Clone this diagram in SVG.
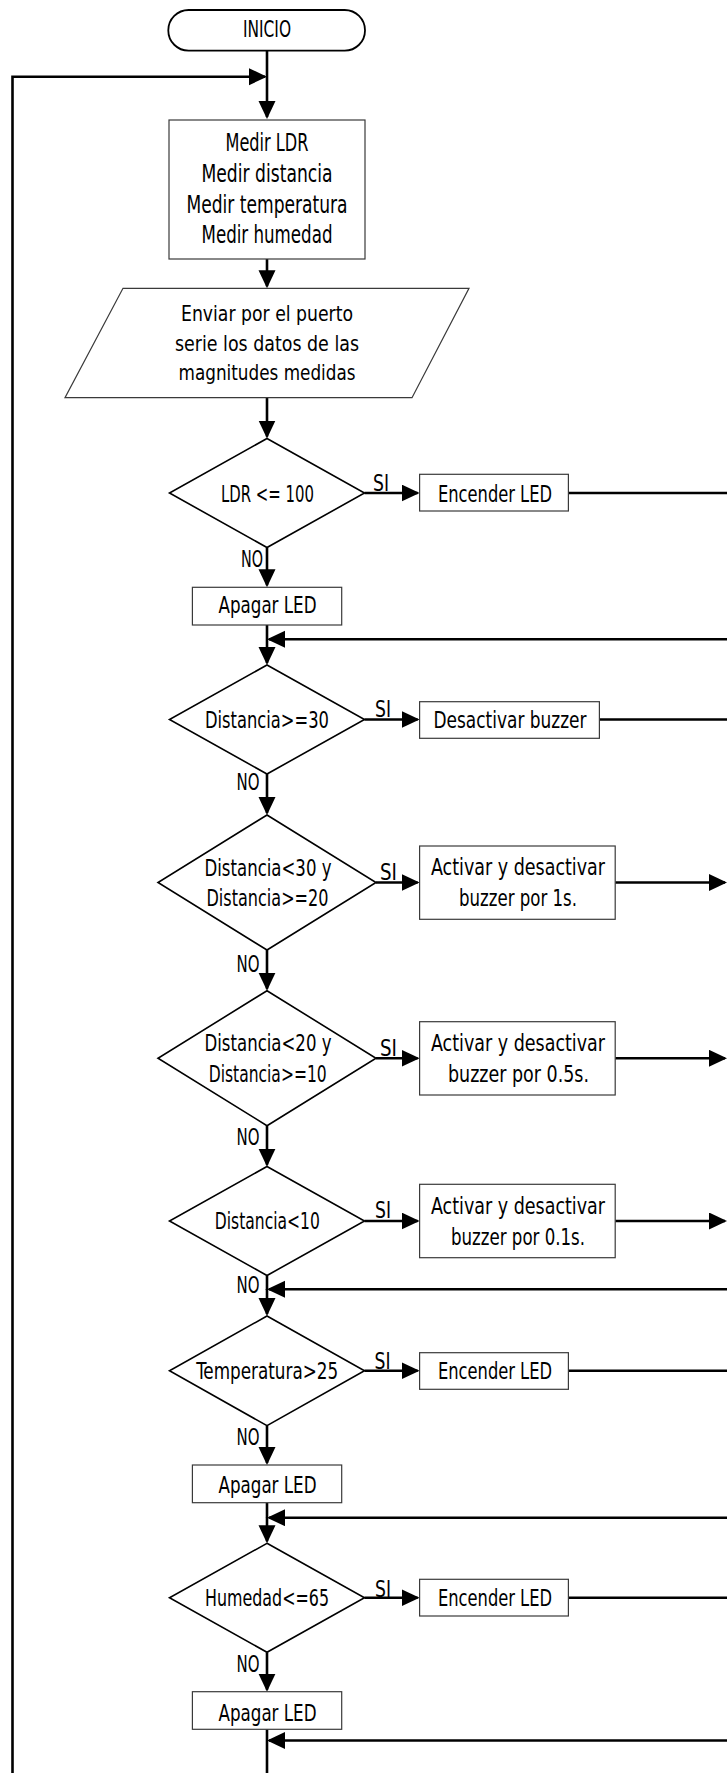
<svg xmlns="http://www.w3.org/2000/svg" width="727" height="1773" viewBox="0 0 727 1773">
<style>
.bg{fill:#ffffff}
.box{fill:#ffffff;stroke:#3a3a3a;stroke-width:1.2}
.dia{fill:#ffffff;stroke:#000000;stroke-width:1.6;stroke-linejoin:miter}
.term{fill:#ffffff;stroke:#000000;stroke-width:1.8}
.con{fill:none;stroke:#000000;stroke-width:2.6}
.arr{marker-end:url(#ah)}
text{font-family:"Liberation Sans Narrow","DejaVu Sans Condensed","Liberation Sans",sans-serif;fill:#000000;font-size:23px;text-anchor:middle}
.big{font-size:25px}
.par{font-size:22px}
.lab{font-size:23px}
.s{text-anchor:start}
.e{text-anchor:end}
</style>
<defs>
<marker id="ah" markerUnits="userSpaceOnUse" markerWidth="20" markerHeight="20" refX="16" refY="8.5" orient="auto">
<path d="M0,0 L18,8.5 L0,17 Z" fill="#000000"/>
</marker>
</defs>
<rect class="bg" x="0" y="0" width="727" height="1773"/>

<g id="connectors">
<line class="con arr" x1="267" y1="51" x2="267" y2="117"/>
<polyline class="con arr" points="12.5,1773 12.5,76.7 265,76.7"/>
<line class="con arr" x1="267" y1="259" x2="267" y2="286.3"/>
<line class="con arr" x1="267" y1="397.7" x2="267" y2="436.5"/>
<line class="con arr" x1="364.5" y1="493" x2="417.6" y2="493"/>
<line class="con" x1="568.4" y1="493" x2="727" y2="493"/>
<line class="con arr" x1="267" y1="547.5" x2="267" y2="585.3"/>
<line class="con" x1="267" y1="625" x2="267" y2="639"/>
<line class="con arr" x1="727" y1="639.3" x2="269" y2="639.3"/>
<line class="con arr" x1="267" y1="639" x2="267" y2="663"/>
<line class="con arr" x1="364.5" y1="719.5" x2="417.6" y2="719.5"/>
<line class="con" x1="599.4" y1="719.5" x2="727" y2="719.5"/>
<line class="con arr" x1="267" y1="774" x2="267" y2="813"/>
<line class="con arr" x1="376" y1="882.5" x2="417.6" y2="882.5"/>
<line class="con arr" x1="615.2" y1="882.5" x2="725" y2="882.5"/>
<line class="con arr" x1="267" y1="950" x2="267" y2="988.7"/>
<line class="con arr" x1="376" y1="1058.3" x2="417.6" y2="1058.3"/>
<line class="con arr" x1="615.2" y1="1058.3" x2="725" y2="1058.3"/>
<line class="con arr" x1="267" y1="1125.7" x2="267" y2="1164.7"/>
<line class="con arr" x1="364.5" y1="1221" x2="417.6" y2="1221"/>
<line class="con arr" x1="615.2" y1="1221" x2="725" y2="1221"/>
<line class="con" x1="267" y1="1275.5" x2="267" y2="1290"/>
<line class="con arr" x1="727" y1="1289.3" x2="269" y2="1289.3"/>
<line class="con arr" x1="267" y1="1289" x2="267" y2="1314"/>
<line class="con arr" x1="364.5" y1="1370.7" x2="417.6" y2="1370.7"/>
<line class="con" x1="568.4" y1="1370.7" x2="727" y2="1370.7"/>
<line class="con arr" x1="267" y1="1425.7" x2="267" y2="1463"/>
<line class="con" x1="267" y1="1502.7" x2="267" y2="1518"/>
<line class="con arr" x1="727" y1="1517.7" x2="269" y2="1517.7"/>
<line class="con arr" x1="267" y1="1517.7" x2="267" y2="1541.3"/>
<line class="con arr" x1="364.5" y1="1597.7" x2="417.6" y2="1597.7"/>
<line class="con" x1="568.4" y1="1597.7" x2="727" y2="1597.7"/>
<line class="con arr" x1="267" y1="1652.3" x2="267" y2="1689.7"/>
<line class="con" x1="267" y1="1729.3" x2="267" y2="1773"/>
<line class="con arr" x1="727" y1="1740.5" x2="269" y2="1740.5"/>
</g>

<g id="labels">
<text class="lab s" x="373" y="490.7" textLength="16" lengthAdjust="spacingAndGlyphs">SI</text>
<text class="lab e" x="263" y="566.7" textLength="22" lengthAdjust="spacingAndGlyphs">NO</text>
<text class="lab s" x="375" y="717" textLength="16" lengthAdjust="spacingAndGlyphs">SI</text>
<text class="lab e" x="259.5" y="790" textLength="23" lengthAdjust="spacingAndGlyphs">NO</text>
<text class="lab s" x="380" y="879.5" textLength="17" lengthAdjust="spacingAndGlyphs">SI</text>
<text class="lab e" x="259.5" y="971.7" textLength="23" lengthAdjust="spacingAndGlyphs">NO</text>
<text class="lab s" x="380" y="1056" textLength="17" lengthAdjust="spacingAndGlyphs">SI</text>
<text class="lab e" x="259.5" y="1145" textLength="23" lengthAdjust="spacingAndGlyphs">NO</text>
<text class="lab s" x="375" y="1218.3" textLength="16" lengthAdjust="spacingAndGlyphs">SI</text>
<text class="lab e" x="259.5" y="1293.3" textLength="23" lengthAdjust="spacingAndGlyphs">NO</text>
<text class="lab s" x="374.6" y="1369.3" textLength="16" lengthAdjust="spacingAndGlyphs">SI</text>
<text class="lab e" x="259.5" y="1445" textLength="23" lengthAdjust="spacingAndGlyphs">NO</text>
<text class="lab s" x="375" y="1596.7" textLength="16" lengthAdjust="spacingAndGlyphs">SI</text>
<text class="lab e" x="259.5" y="1671.7" textLength="23" lengthAdjust="spacingAndGlyphs">NO</text>
</g>

<g id="inicio">
<rect class="term" x="168.3" y="10" width="196.7" height="40.7" rx="20.3"/>
<text x="267" y="37.3" textLength="48" lengthAdjust="spacingAndGlyphs">INICIO</text>
</g>

<g id="medir">
<rect class="box" x="169" y="120" width="196" height="139"/>
<text class="big" x="267" y="151" textLength="83" lengthAdjust="spacingAndGlyphs">Medir LDR</text>
<text class="big" x="267" y="182" textLength="131" lengthAdjust="spacingAndGlyphs">Medir distancia</text>
<text class="big" x="267" y="212.5" textLength="161" lengthAdjust="spacingAndGlyphs">Medir temperatura</text>
<text class="big" x="267" y="243" textLength="131" lengthAdjust="spacingAndGlyphs">Medir humedad</text>
</g>

<g id="enviar">
<polygon class="box" points="123,288.3 469,288.3 412,397.7 65,397.7"/>
<text class="par" x="267" y="320.5" textLength="172" lengthAdjust="spacingAndGlyphs">Enviar por el puerto</text>
<text class="par" x="267" y="351" textLength="184" lengthAdjust="spacingAndGlyphs">serie los datos de las</text>
<text class="par" x="267" y="380" textLength="177" lengthAdjust="spacingAndGlyphs">magnitudes medidas</text>
</g>

<g id="d_ldr">
<polygon class="dia" points="267,438.5 364.5,493 267,547.5 169.5,493"/>
<text x="267.5" y="501.7" textLength="93" lengthAdjust="spacingAndGlyphs">LDR &lt;= 100</text>
</g>
<g id="encender1">
<rect class="box" x="419.6" y="474.3" width="148.8" height="36.7"/>
<text x="495" y="501.7" textLength="114" lengthAdjust="spacingAndGlyphs">Encender LED</text>
</g>
<g id="apagar1">
<rect class="box" x="192.4" y="587.3" width="149.3" height="37.7"/>
<text x="267.5" y="613.3" textLength="98" lengthAdjust="spacingAndGlyphs">Apagar LED</text>
</g>

<g id="d_dist30">
<polygon class="dia" points="267,665 364.5,719.5 267,774 169.5,719.5"/>
<text x="267" y="728.3" textLength="124" lengthAdjust="spacingAndGlyphs">Distancia&gt;=30</text>
</g>
<g id="desactivar">
<rect class="box" x="419.6" y="701.7" width="179.8" height="36.6"/>
<text x="510" y="728.3" textLength="153" lengthAdjust="spacingAndGlyphs">Desactivar buzzer</text>
</g>

<g id="d_dist20_30">
<polygon class="dia" points="267,815 376,882.5 267,950 158,882.5"/>
<text x="268" y="875.5" textLength="127" lengthAdjust="spacingAndGlyphs">Distancia&lt;30 y</text>
<text x="267.5" y="905.5" textLength="122" lengthAdjust="spacingAndGlyphs">Distancia&gt;=20</text>
</g>
<g id="buzzer1s">
<rect class="box" x="419.6" y="846" width="195.6" height="73.3"/>
<text x="518" y="875" textLength="174" lengthAdjust="spacingAndGlyphs">Activar y desactivar</text>
<text x="518" y="906" textLength="118" lengthAdjust="spacingAndGlyphs">buzzer por 1s.</text>
</g>

<g id="d_dist10_20">
<polygon class="dia" points="267,990.7 376,1058.3 267,1125.7 158,1058.3"/>
<text x="268" y="1051" textLength="127" lengthAdjust="spacingAndGlyphs">Distancia&lt;20 y</text>
<text x="267.7" y="1081.7" textLength="118" lengthAdjust="spacingAndGlyphs">Distancia&gt;=10</text>
</g>
<g id="buzzer05s">
<rect class="box" x="419.6" y="1021.7" width="195.6" height="73.3"/>
<text x="518" y="1051" textLength="174" lengthAdjust="spacingAndGlyphs">Activar y desactivar</text>
<text x="518.5" y="1081.7" textLength="141" lengthAdjust="spacingAndGlyphs">buzzer por 0.5s.</text>
</g>

<g id="d_dist10">
<polygon class="dia" points="267,1166.5 364.5,1221 267,1275.5 169.5,1221"/>
<text x="267.3" y="1229.3" textLength="105" lengthAdjust="spacingAndGlyphs">Distancia&lt;10</text>
</g>
<g id="buzzer01s">
<rect class="box" x="419.6" y="1184.3" width="195.6" height="73.4"/>
<text x="518" y="1214.3" textLength="174" lengthAdjust="spacingAndGlyphs">Activar y desactivar</text>
<text x="518" y="1245" textLength="134" lengthAdjust="spacingAndGlyphs">buzzer por 0.1s.</text>
</g>

<g id="d_temp">
<polygon class="dia" points="267,1316 364.5,1370.7 267,1425.7 169.5,1370.7"/>
<text x="267.2" y="1379" textLength="142" lengthAdjust="spacingAndGlyphs">Temperatura&gt;25</text>
</g>
<g id="encender2">
<rect class="box" x="419.6" y="1352.7" width="148.8" height="36.6"/>
<text x="495" y="1379" textLength="114" lengthAdjust="spacingAndGlyphs">Encender LED</text>
</g>
<g id="apagar2">
<rect class="box" x="192.4" y="1465" width="149.3" height="37.7"/>
<text x="267.5" y="1492.7" textLength="98" lengthAdjust="spacingAndGlyphs">Apagar LED</text>
</g>

<g id="d_hum">
<polygon class="dia" points="267,1543.3 364.5,1597.7 267,1652.3 169.5,1597.7"/>
<text x="267" y="1606" textLength="124" lengthAdjust="spacingAndGlyphs">Humedad&lt;=65</text>
</g>
<g id="encender3">
<rect class="box" x="419.6" y="1579.3" width="148.8" height="36.7"/>
<text x="495" y="1606" textLength="114" lengthAdjust="spacingAndGlyphs">Encender LED</text>
</g>
<g id="apagar3">
<rect class="box" x="192.4" y="1691.7" width="149.3" height="37.6"/>
<text x="267.5" y="1721" textLength="98" lengthAdjust="spacingAndGlyphs">Apagar LED</text>
</g>
</svg>
